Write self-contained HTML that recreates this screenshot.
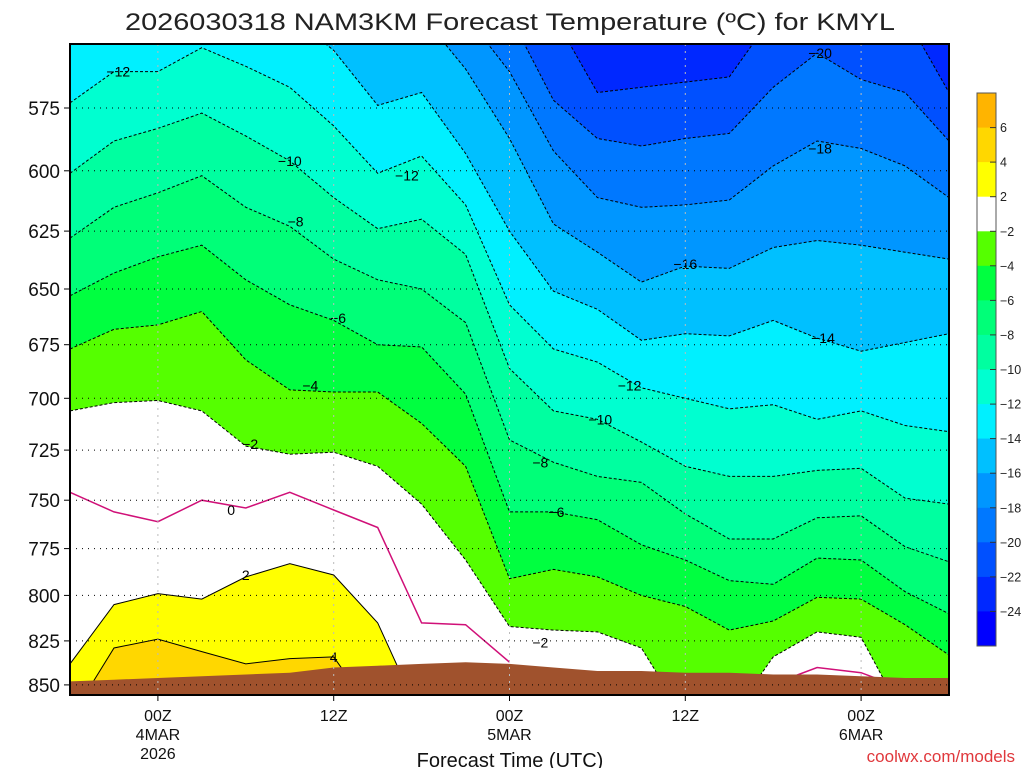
<!DOCTYPE html>
<html><head><meta charset="utf-8"><title>NAM3KM Temperature KMYL</title>
<style>
html,body{margin:0;padding:0;background:#fff;}
svg{display:block;font-family:"Liberation Sans",sans-serif;}
</style></head>
<body>
<svg id="chart" width="1024" height="768" viewBox="0 0 1024 768" xmlns="http://www.w3.org/2000/svg">
<defs><clipPath id="plotclip"><rect x="70" y="44" width="879" height="651"/></clipPath></defs>
<text x="510" y="30" font-size="24" text-anchor="middle" textLength="770" lengthAdjust="spacingAndGlyphs" fill="#222">2026030318 NAM3KM Forecast Temperature (ºC) for KMYL</text>
<g id="plot" clip-path="url(#plotclip)"></g>
<g id="overlay"></g>
<text x="510" y="767" font-size="20" text-anchor="middle" fill="#111">Forecast Time (UTC)</text>
<text x="1015" y="762" font-size="17" text-anchor="end" fill="#e0383c">coolwx.com/models</text>
</svg>
<script>
// forecast hours relative to 00Z 4MAR
const times = [-6,-3,0,3,6,9,12,15,18,21,24,27,30,33,36,39,42,45,48,51,54];
// pressure (hPa) of each isotherm at each time; 540 = above chart top, 870 = below ground
const isoM22 = [540,540,540,540,540,540,540,540,540,540,540,540,569,567,565,563,540,540,540,540,569];
const isoM20 = [540,540,540,540,540,540,540,540,540,540,540,572,587,590,587,585,567,554,564,569,588];
const isoM18 = [540,540,540,540,540,540,540,540,540,540,561,592,611,615,614,612,598,588,591,598,611];
const isoM16 = [540,540,540,540,540,540,540,540,540,560,587,622,634,647,640,641,632,629,631,634,637];
const isoM14 = [540,540,540,540,540,540,553,574,569,593,625,651,659,673,670,671,664,672,678,674,670];
const isoM12 = [573,561,561,552,559,567,582,601,594,614,657,677,683,695,700,705,703,710,706,713,716];
const isoM10 = [601,588,583,577,586,596,611,624,620,635,686,706,710,721,733,738,738,735,734,749,752];
const isoM8  = [628,615,609,602,615,623,637,646,650,665,720,731,738,741,757,770,770,759,758,774,782];
const isoM6  = [653,643,636,631,646,657,664,675,676,698,756,756,760,773,781,792,794,780,781,798,810];
const isoM4  = [677,668,666,660,682,696,697,697,712,733,791,786,790,800,806,819,814,801,802,816,833];
const isoM2  = [706,702,701,706,723,727,726,733,752,781,817,819,820,829,870,870,834,820,823,870,870];
const isoP2  = [838,805,799,802,790,783,789,815,870,870,870,870,870,870,870,870,870,870,870,870,870];
const isoP4  = [870,829,824,831,838,835,834,870,870,870,870,870,870,870,870,870,870,870,870,870,870];
const groundP = [848,847,846,845,844,843,840,839,838,837,838,840,842,842,843,843,844,844,845,846,846];
// 0C isotherm segments
const zeroT1 = [-6,-3,0,3,6,9,12,15,18,21,24];
const zeroP1 = [746,756,761,750,754,746,755,764,815,816,837];
const zeroT2 = [43.1,45,48,49.6];
const zeroP2 = [846,840,843,848];
// contour labels
const labelT = [-2.7,9,9.4,12.3,10.4,6.3,5,6,12,17,36,45.2,45.2,45.4,32.2,30.2,26.1,27.2,26.1];
const labelP = [561,596,621,663,694,722,755,789,834,602,639,554,591,672,694,710,731,756,826];
const labelTxt = ["−12","−10","−8","−6","−4","−2","0","2","4","−12","−16","−20","−18","−14","−12","−10","−8","−6","−2"];
// axis ticks
const pTicks = [575,600,625,650,675,700,725,750,775,800,825,850];
const tTicks = [0,12,24,36,48];
const tTickL1 = ["00Z","12Z","00Z","12Z","00Z"];
const tTickL2 = ["4MAR","","5MAR","","6MAR"];
const tTickL3 = ["2026","","","",""];
// colorbar
const cbarLabels = ["6","4","2","−2","−4","−6","−8","−10","−12","−14","−16","−18","−20","−22","−24"];
const cbarColors = ["#ffb400","#ffd700","#ffff00","#ffffff","#55ff00","#00ff40","#00ff78","#00ffa0","#00ffd0","#00f0ff","#00c0ff","#0096ff","#0078ff","#0050ff","#0028ff","#0000ff"];

const NS = "http://www.w3.org/2000/svg";
function xOf(t){ return 70 + (t + 6) * 14.65; }
function yOf(p){ return 108 + 1476 * Math.log(p / 575); }
function mk(tag, attrs, parent){ const e = document.createElementNS(NS, tag); for (const k in attrs) e.setAttribute(k, attrs[k]); parent.appendChild(e); return e; }
const plot = document.getElementById('plot');
const ov = document.getElementById('overlay');

const bg = mk('rect', {x:70, y:44, width:879, height:651, fill:'#0028ff'}, plot);



const levels = [
  {arr: isoM22, col: '#0050ff', name: 'minus22', st: 'dash'},
  {arr: isoM20, col: '#0078ff', name: 'minus20', st: 'dash'},
  {arr: isoM18, col: '#0096ff', name: 'minus18', st: 'dash'},
  {arr: isoM16, col: '#00c0ff', name: 'minus16', st: 'dash'},
  {arr: isoM14, col: '#00f0ff', name: 'minus14', st: 'dash'},
  {arr: isoM12, col: '#00ffd0', name: 'minus12', st: 'dash'},
  {arr: isoM10, col: '#00ffa0', name: 'minus10', st: 'dash'},
  {arr: isoM8,  col: '#00ff78', name: 'minus8',  st: 'dash'},
  {arr: isoM6,  col: '#00ff40', name: 'minus6',  st: 'dash'},
  {arr: isoM4,  col: '#55ff00', name: 'minus4',  st: 'dash'},
  {arr: isoM2,  col: '#ffffff', name: 'minus2',  st: 'dash'},
  {arr: isoP2,  col: '#ffff00', name: 'plus2',   st: 'solid'},
  {arr: isoP4,  col: '#ffd700', name: 'plus4',   st: 'solid'}
];
function linePts(ts, ps){ return ts.map((t,i) => xOf(t).toFixed(1) + ',' + yOf(ps[i]).toFixed(1)); }
levels.forEach(L => {
  const pts = linePts(times, L.arr);
  const d = 'M' + pts.join(' L') + ' L' + xOf(times[times.length-1]).toFixed(1) + ',730 L' + xOf(times[0]).toFixed(1) + ',730 Z';
  const f = mk('path', {d: d, fill: L.col}, plot);
  
  
});
levels.forEach(L => {
  const a = {d: 'M' + linePts(times, L.arr).join(' L'), fill: 'none', stroke: '#000', 'stroke-width': 1};
  if (L.st === 'dash') a['stroke-dasharray'] = '3,2';
  const l = mk('path', a, plot);
  
  
});
const z1 = mk('path', {d: 'M' + linePts(zeroT1, zeroP1).join(' L'), fill: 'none', stroke: '#d01078', 'stroke-width': 1.5}, plot);


const z2 = mk('path', {d: 'M' + linePts(zeroT2, zeroP2).join(' L'), fill: 'none', stroke: '#d01078', 'stroke-width': 1.5}, plot);



labelT.forEach((t,i) => {
  const tx = mk('text', {x: xOf(t).toFixed(1), y: (yOf(labelP[i]) + 5).toFixed(1), 'font-size': 14, 'text-anchor': 'middle', fill: '#000'}, plot);
  tx.textContent = labelTxt[i];
  
  
});

const gpts = linePts(times, groundP);
const gd = 'M' + gpts.join(' L') + ' L949,700 L70,700 Z';
const g = mk('path', {d: gd, fill: '#a0522d'}, plot);



pTicks.forEach(p => {
  const y = yOf(p).toFixed(1);
  const gl = mk('line', {x1: 70, x2: 949, y1: y, y2: y, stroke: '#000', 'stroke-width': 1, 'stroke-dasharray': '1,5'}, plot);
  
  
  const tk = mk('line', {x1: 64, x2: 70, y1: y, y2: y, stroke: '#000', 'stroke-width': 1}, ov);
  
  
  const lb = mk('text', {x: 60, y: (yOf(p) + 7).toFixed(1), 'font-size': 19, 'text-anchor': 'end', fill: '#111'}, ov);
  lb.textContent = String(p);
  
  
});
tTicks.forEach((t,i) => {
  const x = xOf(t).toFixed(1);
  const vl = mk('line', {x1: x, x2: x, y1: 44, y2: 695, stroke: '#bbb', 'stroke-width': 1, 'stroke-dasharray': '2,5'}, plot);
  
  
  const tk = mk('line', {x1: x, x2: x, y1: 695, y2: 701, stroke: '#000', 'stroke-width': 1}, ov);
  
  
  [tTickL1[i], tTickL2[i], tTickL3[i]].forEach((s,k) => {
    if (!s) return;
    const lb = mk('text', {x: x, y: 721 + k * 19, 'font-size': 16, 'text-anchor': 'middle', fill: '#111'}, ov);
    lb.textContent = s;
    
    
  });
});
const border = mk('rect', {x: 70, y: 44, width: 879, height: 651, fill: 'none', stroke: '#000', 'stroke-width': 2}, ov);



const cbTop = 93, cbH = 553 / cbarColors.length;
cbarColors.forEach((c,i) => {
  const r = mk('rect', {x: 977, y: (cbTop + i * cbH).toFixed(1), width: 19, height: (cbH + 0.5).toFixed(1), fill: c}, ov);
  
  
});
const cbb = mk('rect', {x: 977, y: 93, width: 19, height: 553, fill: 'none', stroke: '#555', 'stroke-width': 1}, ov);


cbarLabels.forEach((s,i) => {
  const y = cbTop + (i + 1) * cbH;
  const tk = mk('line', {x1: 990, x2: 996, y1: y.toFixed(1), y2: y.toFixed(1), stroke: '#333', 'stroke-width': 1}, ov);
  
  
  const lb = mk('text', {x: 1000, y: (y + 4.5).toFixed(1), 'font-size': 12.5, fill: '#222'}, ov);
  lb.textContent = s;
  
  
});
</script>
</body></html>
